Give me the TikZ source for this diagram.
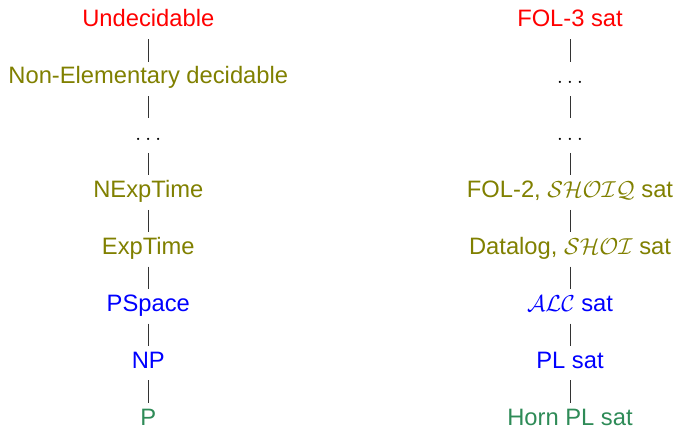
\documentclass[tikz,border=0pt]{standalone}
\usepackage{fontspec}
\setmainfont{Liberation Sans}
\definecolor{cred}{RGB}{255,0,0}
\definecolor{colive}{RGB}{128,128,0}
\definecolor{cblue}{RGB}{0,0,255}
\definecolor{cgreen}{RGB}{46,139,87}
\begin{document}
\begin{tikzpicture}[x=0.75pt,y=-0.75pt,
  lvl/.style={inner xsep=0pt,inner ysep=3pt,text height=13.5pt,text depth=6pt,
    font=\fontsize{17.8}{20}\selectfont},
  lvlbottom/.style={lvl,inner ysep=0pt,text height=16.5pt,text depth=0pt},
  link/.style={draw=black!80,line width=0.6pt}]
\useasboundingbox (0,0) rectangle (680,427);
\def\xl{148.3}
\def\xr{570}
% left column
\node[lvl,text=cred]   (l1) at (\xl,22)    {Undecidable};
\node[lvl,text=colive] (l2) at (\xl,78.9)  {Non-Elementary decidable};
\node[lvl,text=black]  (l3) at (\xl,135.7) {$\ldots$};
\node[lvl,text=colive] (l4) at (\xl,192.6) {NExpTime};
\node[lvl,text=colive] (l5) at (\xl,249.4) {ExpTime};
\node[lvl,text=cblue]  (l6) at (\xl,306.3) {PSpace};
\node[lvl,text=cblue]  (l7) at (\xl,363.2) {NP};
\node[lvlbottom,text=cgreen] (l8) at (\xl,414) {P};
% right column
\node[lvl,text=cred]   (r1) at (\xr,22)    {FOL-3 sat};
\node[lvl,text=black]  (r2) at (\xr,78.9)  {$\ldots$};
\node[lvl,text=black]  (r3) at (\xr,135.7) {$\ldots$};
\node[lvl,text=colive] (r4) at (\xr,192.6) {FOL-2, $\mathcal{SHOIQ}$ sat};
\node[lvl,text=colive] (r5) at (\xr,249.4) {Datalog, $\mathcal{SHOI}$ sat};
\node[lvl,text=cblue]  (r6) at (\xr,306.3) {$\mathcal{ALC}$ sat};
\node[lvl,text=cblue]  (r7) at (\xr,363.2) {PL sat};
\node[lvlbottom,text=cgreen] (r8) at (\xr,414) {Horn PL sat};
\foreach \a/\b in {1/2,2/3,3/4,4/5,5/6,6/7,7/8}{
  \draw[link] (l\a.south) -- (l\b.north);
  \draw[link] (r\a.south) -- (r\b.north);
}
\end{tikzpicture}
\end{document}
